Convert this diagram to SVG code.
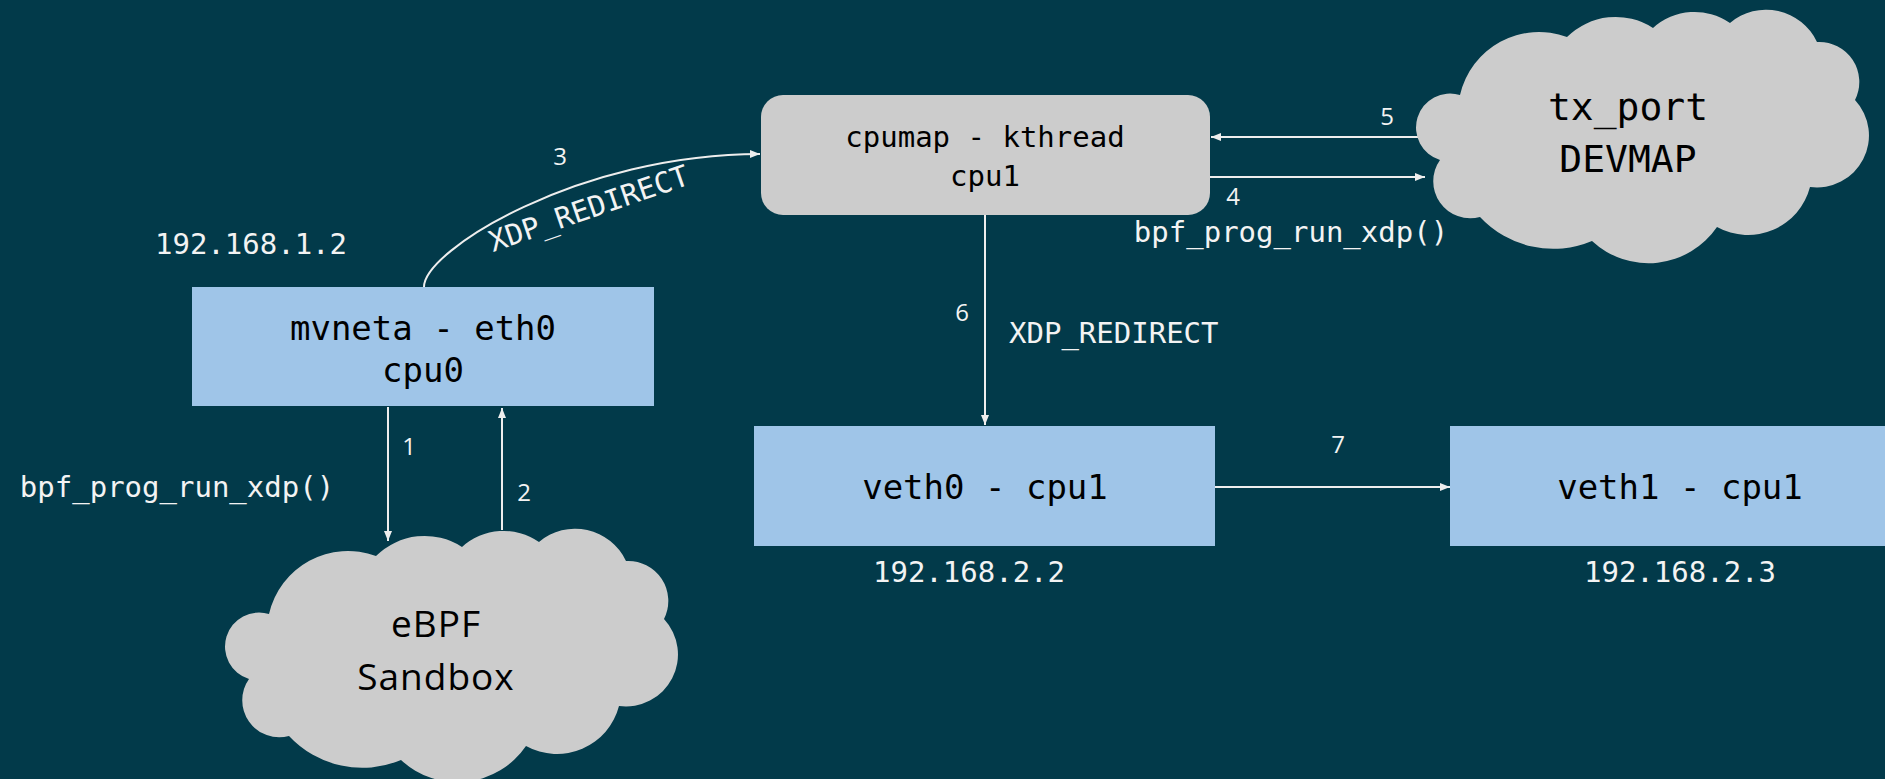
<svg xmlns="http://www.w3.org/2000/svg" width="1885" height="779" viewBox="0 0 1885 779">
<style>
.bg{fill:#023a4a}
.box{fill:#9fc5e8}
.grey{fill:#cccccc}
.mono{font-family:"DejaVu Sans Mono","Liberation Mono",monospace}
.sans{font-family:"Open Sans","Noto Sans","Liberation Sans",sans-serif}
.dark{fill:#000000}
.lbl{fill:#f3f3f3;font-size:29px}
.num{fill:#f3f3f3;font-size:24px}
.c{text-anchor:middle}
.wire{fill:none;stroke:#eeeeee;stroke-width:2;marker-end:url(#ah)}
</style>
<defs>
<marker id="ah" markerUnits="userSpaceOnUse" markerWidth="11" markerHeight="9" refX="10" refY="4" orient="auto" viewBox="0 0 11 9">
<path d="M0,0 L10,4 L0,8 Z" fill="#eeeeee"/>
</marker>
<path id="cloud" d="M42,85 A81,81 0 0,1 149,27 A69,69 0 0,1 235,18 A62,62 0 0,1 312,13 A56,56 0 0,1 399,32 A40,40 0 0,1 437,90 A52,52 0 0,1 392,177 A64,64 0 0,1 299,217 A83,83 0 0,1 174,231 A100,100 0 0,1 62,207 A37,37 0 0,1 22,150 A34,34 0 0,1 42,85 Z"/>
</defs>
<rect class="bg" x="0" y="0" width="1885" height="779"/>

<g id="connectors">
<path class="wire" d="M388,407 L388,541"/>
<path class="wire" d="M502,530 L502,408"/>
<path class="wire" d="M424,287 C424,250 580,154 760,154"/>
<path class="wire" d="M1210,177 L1425,177"/>
<path class="wire" d="M1420,137 L1211,137"/>
<path class="wire" d="M985,215 L985,425"/>
<path class="wire" d="M1215,487 L1450,487"/>
<text class="sans num c" x="409" y="455">1</text>
<text class="sans num c" x="524" y="501">2</text>
<text class="sans num c" x="560" y="165">3</text>
<text class="sans num c" x="1233" y="205">4</text>
<text class="sans num c" x="1387" y="125">5</text>
<text class="sans num c" x="962" y="321">6</text>
<text class="sans num c" x="1338" y="453">7</text>
<text class="mono lbl" x="493" y="252" transform="rotate(-19 493 252)">XDP_REDIRECT</text>
<text class="mono lbl" x="1009" y="343">XDP_REDIRECT</text>
<text class="mono lbl c" x="177" y="497">bpf_prog_run_xdp()</text>
<text class="mono lbl c" x="1291" y="242">bpf_prog_run_xdp()</text>
</g>

<g id="mvneta">
<rect class="box" x="192" y="287" width="462" height="119"/>
<text class="mono dark c" x="423" y="340" font-size="34">mvneta - eth0</text>
<text class="mono dark c" x="423" y="382" font-size="34">cpu0</text>
<text class="mono lbl c" x="251" y="254">192.168.1.2</text>
</g>

<g id="cpumap">
<rect class="grey" x="761" y="95" width="449" height="120" rx="22" ry="22"/>
<text class="mono dark c" x="985" y="147" font-size="29">cpumap - kthread</text>
<text class="mono dark c" x="985" y="186" font-size="29">cpu1</text>
</g>

<g id="devmap">
<use href="#cloud" class="grey" transform="translate(1418,10)"/>
<text class="mono dark c" x="1628" y="120" font-size="38">tx_port</text>
<text class="mono dark c" x="1628" y="172" font-size="38">DEVMAP</text>
</g>

<g id="ebpf">
<use href="#cloud" class="grey" transform="translate(227,529)"/>
<text class="sans dark c" x="436" y="637" font-size="37" letter-spacing="1">eBPF</text>
<text class="sans dark c" x="436" y="690" font-size="37" letter-spacing="1">Sandbox</text>
</g>

<g id="veth0">
<rect class="box" x="754" y="426" width="461" height="120"/>
<text class="mono dark c" x="985" y="499" font-size="34">veth0 - cpu1</text>
<text class="mono lbl c" x="969" y="582">192.168.2.2</text>
</g>

<g id="veth1">
<rect class="box" x="1450" y="426" width="460" height="120"/>
<text class="mono dark c" x="1680" y="499" font-size="34">veth1 - cpu1</text>
<text class="mono lbl c" x="1680" y="582">192.168.2.3</text>
</g>
</svg>
